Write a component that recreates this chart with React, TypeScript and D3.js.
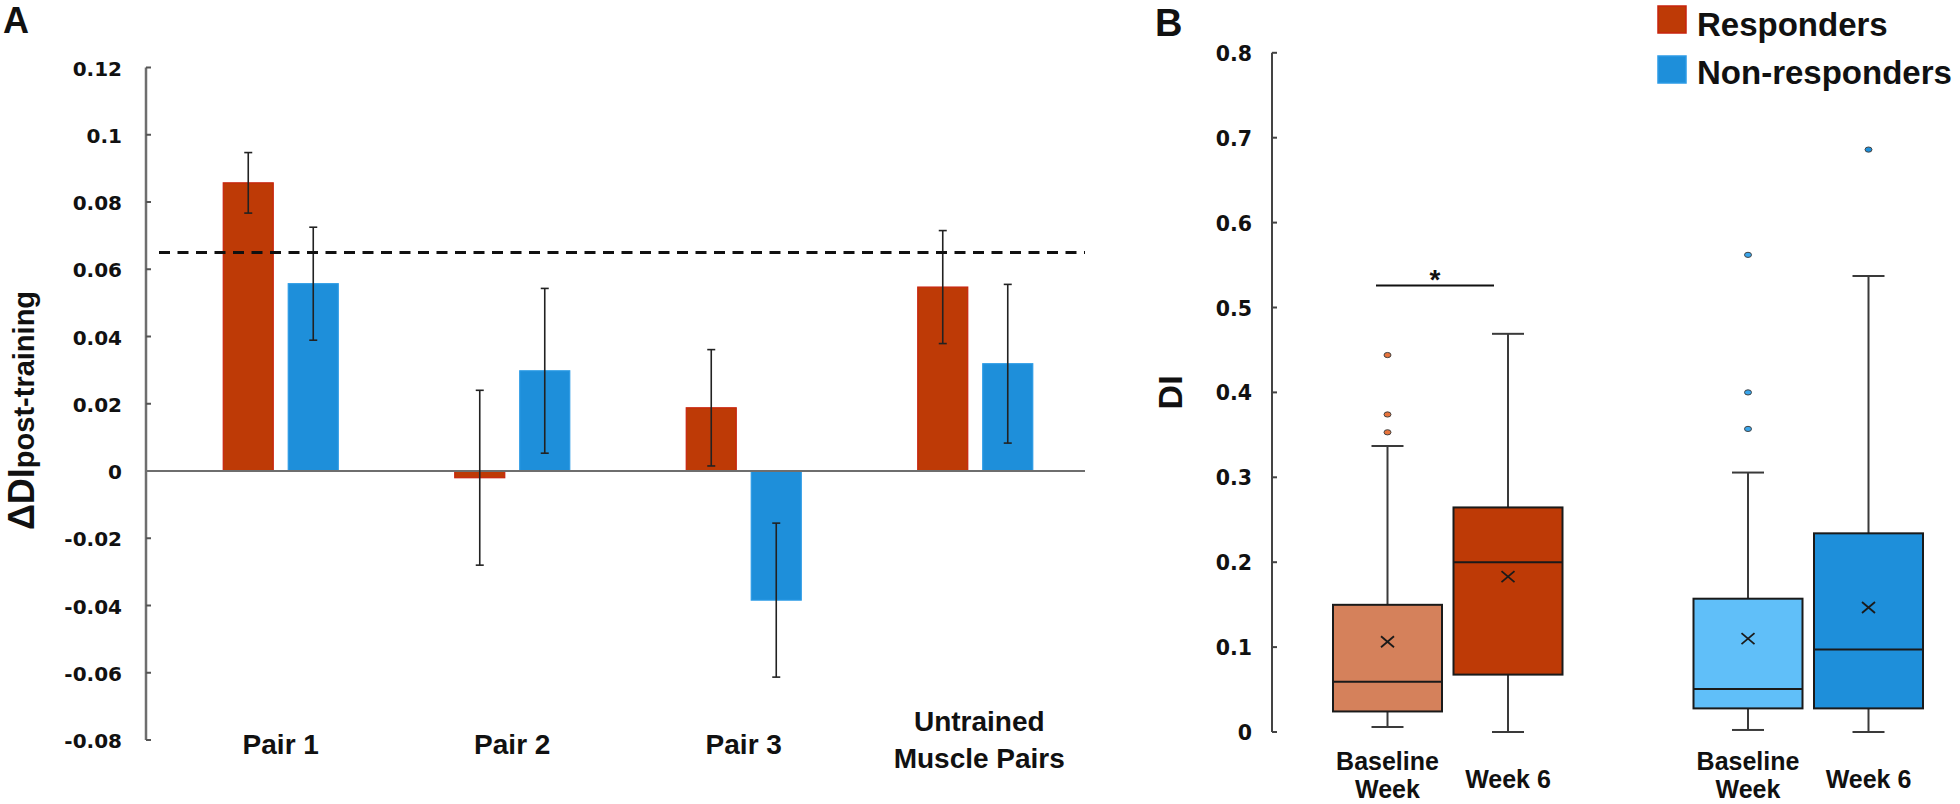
import React from "react";
import * as d3 from "d3";

// ---------- Panel A data ----------
const categories = ["Pair 1", "Pair 2", "Pair 3", "Untrained Muscle Pairs"];
const categoryLabelLines = [["Pair 1"], ["Pair 2"], ["Pair 3"], ["Untrained", "Muscle Pairs"]];
const seriesNames = ["Responders", "Non-responders"];
const respondersDelta = [0.0857, -0.002, 0.0188, 0.0547];
const respondersErr = [0.009, 0.026, 0.0173, 0.0168];
const nonRespondersDelta = [0.0557, 0.0298, -0.0384, 0.0319];
const nonRespondersErr = [0.0168, 0.0245, 0.0229, 0.0236];
const thresholdValue = 0.065;
const aTicks = [-0.08, -0.06, -0.04, -0.02, 0, 0.02, 0.04, 0.06, 0.08, 0.1, 0.12];
const aTickLabels = ["-0.08", "-0.06", "-0.04", "-0.02", "0", "0.02", "0.04", "0.06", "0.08", "0.1", "0.12"];

// ---------- Panel B data ----------
const groups = ["Responders", "Non-responders"];
const timepoints = ["Baseline Week", "Week 6"];
const timepointLabelLines = [["Baseline", "Week"], ["Week 6"]];
// box order: Responders-Baseline, Responders-Week6, NonResp-Baseline, NonResp-Week6
const boxQ1 = [0.0242, 0.0676, 0.0278, 0.0278];
const boxMedian = [0.0592, 0.2, 0.0507, 0.0972];
const boxQ3 = [0.1498, 0.2645, 0.157, 0.234];
const boxMean = [0.1063, 0.183, 0.11, 0.1467];
const whiskerLow = [0.006, 0, 0.0024, 0];
const whiskerHigh = [0.337, 0.469, 0.3056, 0.537];
const boxOutliers = [[0.444, 0.374, 0.353], [], [0.562, 0.4, 0.357], [0.686]];
const significanceValue = 0.526;
const bTicks = [0, 0.1, 0.2, 0.3, 0.4, 0.5, 0.6, 0.7, 0.8];
const bTickLabels = ["0", "0.1", "0.2", "0.3", "0.4", "0.5", "0.6", "0.7", "0.8"];

const RED = "#BE3A06";
const RED_EDGE = "#C8230C";
const BLUE = "#1E8FDA";
const BLUE_EDGE = "#2B9BE6";
const LIGHT_RED = "#D5815B";
const LIGHT_BLUE = "#60BFF9";
const boxFills = [LIGHT_RED, RED, LIGHT_BLUE, BLUE];
const outlierFills = ["#E8743C", RED, "#3AA6EC", BLUE];

const ARIAL = "'Liberation Sans', Arial, sans-serif";
const WIDE = "'DejaVu Sans', Verdana, sans-serif";

export default function App() {
  // Panel A scales
  const yA = d3.scaleLinear().domain([-0.08, 0.12]).range([740, 67.5]);
  const xA = d3.scaleBand<string>().domain(categories).range([165, 1091]).paddingInner(0).paddingOuter(0);
  const inner = d3.scaleBand<string>().domain(seriesNames).range([-57.5, 57.5]).paddingInner(0.2308).paddingOuter(0);
  const axisAX = 146;

  // Panel B scales
  const yB = d3.scaleLinear().domain([0, 0.8]).range([732, 52.8]);
  const xGroup = d3.scalePoint<string>().domain(groups).range([1447.75, 1808.25]);
  const xTime = d3.scalePoint<string>().domain(timepoints).range([-60.25, 60.25]);
  const axisBX = 1272;
  const boxW = 109;
  const capW = 32;

  const aSeries = [
    { name: seriesNames[0], vals: respondersDelta, errs: respondersErr, fill: RED, edge: RED_EDGE },
    { name: seriesNames[1], vals: nonRespondersDelta, errs: nonRespondersErr, fill: BLUE, edge: BLUE_EDGE },
  ];

  const boxes: any[] = [];
  groups.forEach((g, gi) => {
    timepoints.forEach((t, ti) => {
      const i = gi * 2 + ti;
      boxes.push({ i, ti, cx: (xGroup(g) as number) + (xTime(t) as number) });
    });
  });

  const sigX0 = 1376;
  const sigX1 = 1494;

  return (
    <svg width={1960} height={804} style={{ position: "absolute", left: 0, top: 0, background: "#fff" }}>
      <rect x={0} y={0} width={1960} height={804} fill="#ffffff" />
      {/* ================= Panel A ================= */}
      <text x={3} y={33} fontFamily={ARIAL} fontWeight="bold" fontSize={36} fill="#111">A</text>

      {/* y axis */}
      <line x1={axisAX} x2={axisAX} y1={yA(0.12)} y2={yA(-0.08)} stroke="#6e6e6e" strokeWidth={2.5} />
      {aTicks.map((t, i) => (
        <g key={"at" + i}>
          <line x1={axisAX} x2={axisAX + 5} y1={yA(t)} y2={yA(t)} stroke="#555" strokeWidth={2} />
          <text x={122} y={yA(t) + 1} textAnchor="end" dominantBaseline="central" fontFamily={WIDE} fontWeight="bold" fontSize={20} fill="#111">
            {aTickLabels[i]}
          </text>
        </g>
      ))}

      {/* y title */}
      <text transform={`translate(34,530) rotate(-90)`} fontFamily={ARIAL} fontWeight="bold" fill="#111">
        <tspan fontSize={36}>ΔDI</tspan>
        <tspan fontSize={29}>post-training</tspan>
      </text>

      {/* bars */}
      {aSeries.map((s) =>
        categories.map((c, ci) => {
          const x0 = (xA(c) as number) + xA.bandwidth() / 2 + (inner(s.name) as number);
          const v = s.vals[ci];
          const y0 = yA(Math.max(0, v));
          const h = Math.abs(yA(v) - yA(0));
          return (
            <rect key={s.name + c} x={x0} y={y0} width={inner.bandwidth()} height={Math.max(h, 1)} fill={s.fill} stroke={s.edge} strokeWidth={1.2} />
          );
        })
      )}

      {/* zero line */}
      <line x1={axisAX} x2={1085} y1={yA(0)} y2={yA(0)} stroke="#6e6e6e" strokeWidth={2} />

      {/* error bars */}
      {aSeries.map((s) =>
        categories.map((c, ci) => {
          const cx = (xA(c) as number) + xA.bandwidth() / 2 + (inner(s.name) as number) + inner.bandwidth() / 2;
          const hi = yA(s.vals[ci] + s.errs[ci]);
          const lo = yA(s.vals[ci] - s.errs[ci]);
          return (
            <g key={"e" + s.name + c} stroke="#222" strokeWidth={1.6}>
              <line x1={cx} x2={cx} y1={hi} y2={lo} />
              <line x1={cx - 4} x2={cx + 4} y1={hi} y2={hi} />
              <line x1={cx - 4} x2={cx + 4} y1={lo} y2={lo} />
            </g>
          );
        })
      )}

      {/* threshold dashed line */}
      <line x1={159} x2={1085} y1={yA(thresholdValue)} y2={yA(thresholdValue)} stroke="#111" strokeWidth={3} strokeDasharray="11,7.5" />

      {/* category labels */}
      {categories.map((c, ci) => {
        const lines = categoryLabelLines[ci];
        const cx = (xA(c) as number) + xA.bandwidth() / 2 + (ci === 3 ? 4 : 0);
        const baseY = lines.length === 1 ? 754 : 731;
        return (
          <text key={"cl" + c} x={cx} y={baseY} textAnchor="middle" fontFamily={ARIAL} fontWeight="bold" fontSize={28} fill="#111">
            {lines.map((l, li) => (
              <tspan key={li} x={cx} dy={li === 0 ? 0 : 36.5}>{l}</tspan>
            ))}
          </text>
        );
      })}

      {/* ================= Panel B ================= */}
      <text x={1155} y={36} fontFamily={ARIAL} fontWeight="bold" fontSize={38} fill="#111">B</text>

      <line x1={axisBX} x2={axisBX} y1={yB(0.8)} y2={yB(0)} stroke="#444" strokeWidth={2} />
      {bTicks.map((t, i) => (
        <g key={"bt" + i}>
          <line x1={axisBX} x2={axisBX + 5} y1={yB(t)} y2={yB(t)} stroke="#444" strokeWidth={2} />
          <text x={1252} y={yB(t) + 1} textAnchor="end" dominantBaseline="central" fontFamily={WIDE} fontWeight="bold" fontSize={20.5} fill="#111">
            {bTickLabels[i]}
          </text>
        </g>
      ))}
      <text transform={`translate(1182,${yB(0.4)}) rotate(-90)`} textAnchor="middle" fontFamily={ARIAL} fontWeight="bold" fontSize={34} fill="#111">DI</text>

      {/* boxes */}
      {boxes.map((b) => {
        const i = b.i;
        const cx = b.cx;
        return (
          <g key={"box" + i}>
            <line x1={cx} x2={cx} y1={yB(whiskerHigh[i])} y2={yB(boxQ3[i])} stroke="#3a3a3a" strokeWidth={2} />
            <line x1={cx} x2={cx} y1={yB(boxQ1[i])} y2={yB(whiskerLow[i])} stroke="#3a3a3a" strokeWidth={2} />
            <line x1={cx - capW / 2} x2={cx + capW / 2} y1={yB(whiskerHigh[i])} y2={yB(whiskerHigh[i])} stroke="#3a3a3a" strokeWidth={2} />
            <line x1={cx - capW / 2} x2={cx + capW / 2} y1={yB(whiskerLow[i])} y2={yB(whiskerLow[i])} stroke="#3a3a3a" strokeWidth={2} />
            <rect x={cx - boxW / 2} y={yB(boxQ3[i])} width={boxW} height={yB(boxQ1[i]) - yB(boxQ3[i])} fill={boxFills[i]} stroke="#1a1a1a" strokeWidth={2} />
            <line x1={cx - boxW / 2} x2={cx + boxW / 2} y1={yB(boxMedian[i])} y2={yB(boxMedian[i])} stroke="#1a1a1a" strokeWidth={2} />
            <g stroke="#1a1a1a" strokeWidth={1.8}>
              <line x1={cx - 6.5} x2={cx + 6.5} y1={yB(boxMean[i]) - 5.5} y2={yB(boxMean[i]) + 5.5} />
              <line x1={cx - 6.5} x2={cx + 6.5} y1={yB(boxMean[i]) + 5.5} y2={yB(boxMean[i]) - 5.5} />
            </g>
            {boxOutliers[i].map((o, oi) => (
              <ellipse key={oi} cx={cx} cy={yB(o)} rx={3.5} ry={2.6} fill={outlierFills[i]} stroke="#444" strokeWidth={1} />
            ))}
          </g>
        );
      })}

      {/* significance */}
      <line x1={sigX0} x2={sigX1} y1={yB(significanceValue)} y2={yB(significanceValue)} stroke="#111" strokeWidth={2} />
      <text x={(sigX0 + sigX1) / 2} y={yB(significanceValue) + 4} textAnchor="middle" fontFamily={ARIAL} fontWeight="bold" fontSize={28} fill="#111">*</text>

      {/* timepoint labels */}
      {boxes.map((b) => {
        const lines = timepointLabelLines[b.ti];
        const baseY = lines.length === 1 ? 788 : 770;
        return (
          <text key={"tl" + b.i} x={b.cx} y={baseY} textAnchor="middle" fontFamily={ARIAL} fontWeight="bold" fontSize={25} fill="#111">
            {lines.map((l, li) => (
              <tspan key={li} x={b.cx} dy={li === 0 ? 0 : 28}>{l}</tspan>
            ))}
          </text>
        );
      })}

      {/* legend */}
      {seriesNames.map((s, si) => (
        <g key={"lg" + s}>
          <rect x={1658} y={6 + si * 50} width={28} height={27} fill={si === 0 ? RED : BLUE} stroke={si === 0 ? RED_EDGE : BLUE_EDGE} strokeWidth={1.5} />
          <text x={1697} y={36 + si * 48} fontFamily={ARIAL} fontWeight="bold" fontSize={33} fill="#111">{s}</text>
        </g>
      ))}
    </svg>
  );
}
